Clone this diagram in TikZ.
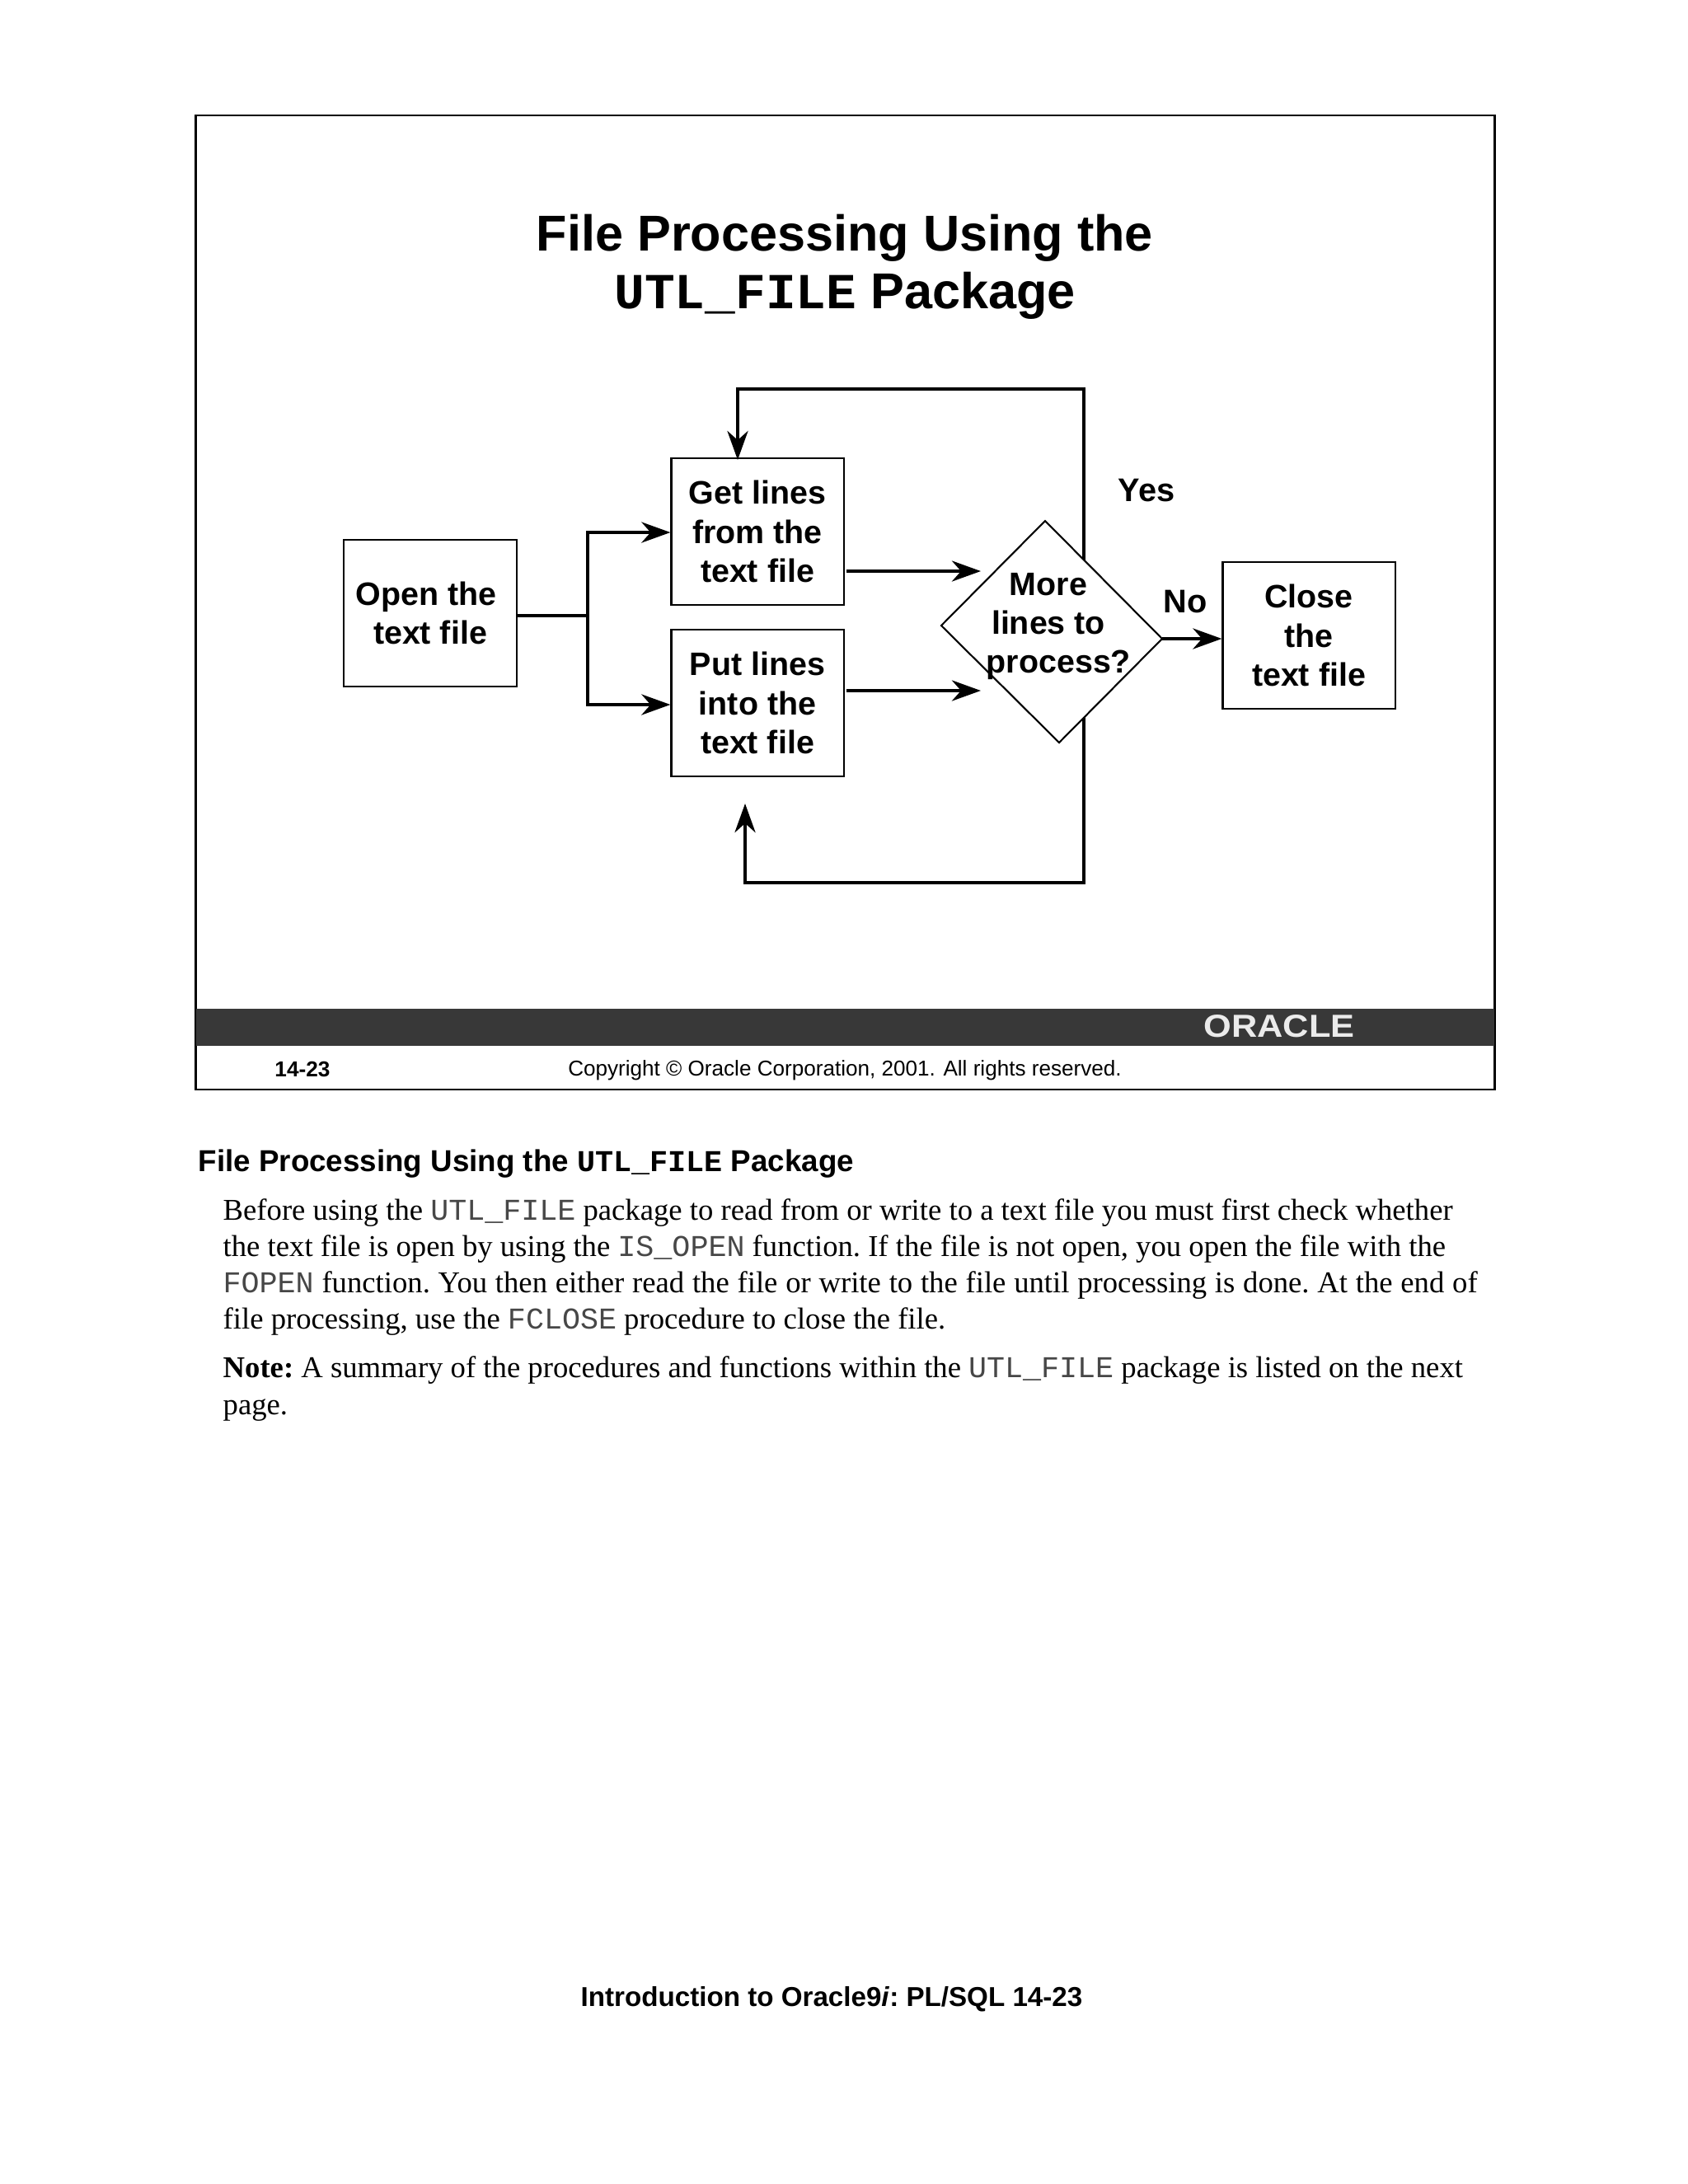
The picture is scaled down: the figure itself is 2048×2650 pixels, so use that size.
\documentclass[tikz,border=0pt]{standalone}
\usepackage{fontspec}
\setmainfont{Liberation Serif}
\setsansfont{Liberation Sans}
\setmonofont{Liberation Mono}
\usetikzlibrary{calc, arrows.meta}

\definecolor{bargray}{HTML}{383838}
\newcommand{\codeword}[1]{{\ttfamily\color{black!72}#1}}

\tikzset{
    stepbox/.style={draw, line width=0.6pt, minimum width=2.09cm, minimum height=1.78cm, align=center, inner sep=0pt, font=\sffamily\bfseries\fontsize{11.2}{13.4}\selectfont},
    flowline/.style={line width=1.25pt, -{Stealth[length=0.35cm, width=0.25cm, inset=0.11cm]}},
    plainline/.style={line width=1.25pt},
    bodyline/.style={anchor=base west, inner sep=0pt, font=\frenchspacing\fontsize{10.43}{12.6}\selectfont},
    slidelabel/.style={anchor=base, inner sep=0pt, font=\sffamily\bfseries\fontsize{11.3}{13.4}\selectfont}
}

\begin{document}
\begin{tikzpicture}[x=0.01cm, y=-0.01cm]
    \useasboundingbox (0,0) rectangle (2048,2650);

    % slide frame and bar
    \node[draw, line width=0.6pt, minimum width=15.75cm, minimum height=11.82cm, inner sep=0pt] (frame) at (1025.5,731) {};
    \node[fill=bargray, minimum width=15.75cm, minimum height=0.45cm, inner sep=0pt] (bar) at (1025.5,1246) {};
    \node[inner sep=0pt, text=black!8, font=\sffamily\bfseries\fontsize{11}{11}\selectfont, xscale=1.12] (logo) at (1552,1245) {ORACLE};

    % title
    \node[anchor=base, inner sep=0pt, font=\sffamily\bfseries\fontsize{17.4}{20}\selectfont] (title) at (1025,304) {File Processing Using the};
    \node[anchor=base, inner sep=0pt, font=\sffamily\bfseries\fontsize{17.4}{20}\selectfont] (titleb) at (1025,374) {{\ttfamily UTL\_FILE} Package};

    % boxes
    \node[stepbox] (open) at (522,744) {Open the\hspace*{0.25em}\\text file};
    \node[stepbox] (get) at (919,645) {Get lines\\from the\\text file};
    \node[stepbox] (put) at (919,853) {Put lines\\into the\\text file};
    \node[stepbox] (close) at (1588,771) {Close\\the\\text file};

    % corners of the lines
    \coordinate (trunktop) at (713,646);
    \coordinate (trunkbot) at (713,855);
    \coordinate (trunkmid) at (713,747);
    \coordinate (yesup) at (1315,720);
    \coordinate (yesright) at (1315,472);
    \coordinate (yesleft) at (895,472);
    \coordinate (yesend) at (895,558);
    \coordinate (noright) at (1315,1071);
    \coordinate (noleft) at (904,1071);
    \coordinate (noend) at (904,975);
    \coordinate (getin) at (1190,693);
    \coordinate (putin) at (1190,838);

    \draw[plainline] (trunkmid -| open.east) -- (trunkmid);
    \draw[flowline] (trunkmid) -- (trunktop) -- (trunktop -| get.west);
    \draw[flowline] (trunkmid) -- (trunkbot) -- (trunkbot -| put.west);
    \draw[flowline, shorten <=0.02cm] (get.east |- getin) -- (getin);
    \draw[flowline, shorten <=0.02cm] (put.east |- putin) -- (putin);
    \draw[flowline] (yesup) -- (yesright) -- (yesleft) -- (yesend);
    \draw[flowline] (yesup) -- (noright) -- (noleft) -- (noend);

    % decision, a little skewed
    \coordinate (moretop) at (1268,632);
    \coordinate (moreleft) at (1142,759);
    \coordinate (moreright) at (1410,775);
    \coordinate (morebot) at (1285,901);
    \draw[line width=0.6pt, fill=white] (moretop) -- (moreright) -- (morebot) -- (moreleft) -- cycle;
    \node[align=center, inner sep=0pt, font=\sffamily\bfseries\fontsize{11.2}{13.4}\selectfont] (more) at (1272,760) {More\\lines to\\\hspace*{0.63em}process?};
    \draw[flowline] (moreright) -- (moreright -| close.west);

    \node[slidelabel] (yes) at (1391,608) {Yes};
    \node[slidelabel] (no) at (1438,743) {No};

    % slide footer
    \node[anchor=base, inner sep=0pt, font=\sffamily\bfseries\fontsize{7.45}{9}\selectfont] (slidenum) at (367,1306) {14-23};
    \node[anchor=base, inner sep=0pt, font=\sffamily\fontsize{7.42}{9}\selectfont] (copyright) at (1025,1305) {Copyright © Oracle Corporation, 2001. All rights reserved.};

    % notes
    \node[anchor=base west, inner sep=0pt, font=\sffamily\bfseries\fontsize{10.45}{12.6}\selectfont] (heading) at (240,1421) {File Processing Using the {\ttfamily UTL\_FILE} Package};
    \foreach \y/\txt [count=\i] in {
        1480/{Before using the \codeword{UTL\_FILE} package to read from or write to a text file you must first check whether},
        1524/{the text file is open by using the \codeword{IS\_OPEN} function. If the file is not open, you open the file with the},
        1568/{\makebox[15.21cm][s]{\codeword{FOPEN} function. You then either read the file or write to the file until processing is done. At the end of}},
        1612/{file processing, use the \codeword{FCLOSE} procedure to close the file.},
        1671/{\textbf{Note:} A summary of the procedures and functions within the \codeword{UTL\_FILE} package is listed on the next},
        1716/{page.}} {
        \node[bodyline] (body\i) at (270,\y) {\txt};
    }

    \node[anchor=base, inner sep=0pt, font=\sffamily\bfseries\frenchspacing\fontsize{9.43}{12}\selectfont] (pagefoot) at (1009,2434) {Introduction to Oracle9\textit{i}: PL/SQL 14-23};
\end{tikzpicture}
\end{document}
